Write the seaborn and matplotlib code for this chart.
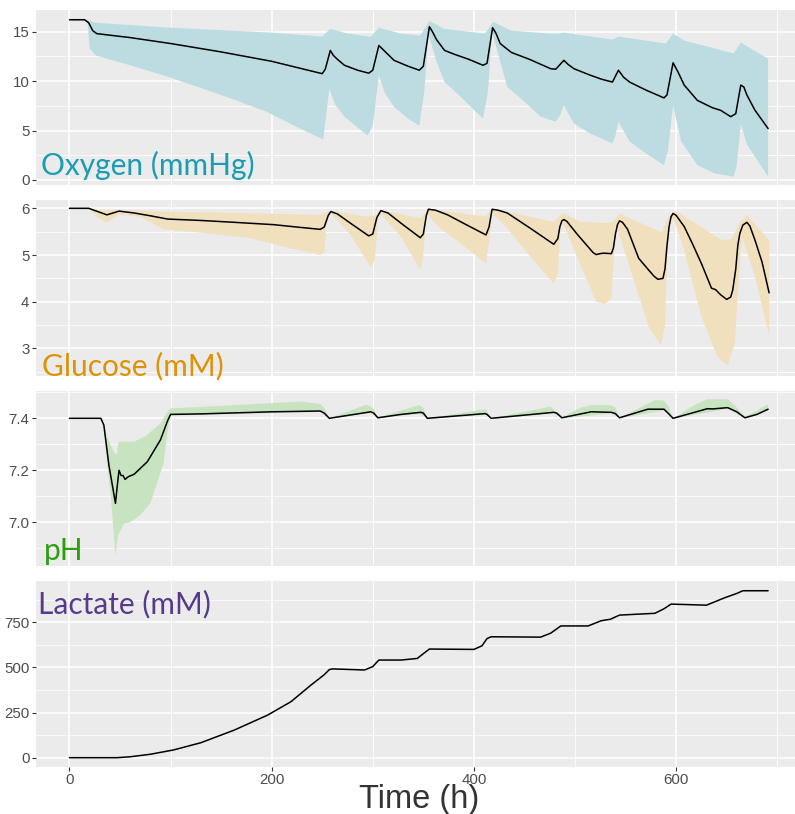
import numpy as np
import pandas as pd
import matplotlib
matplotlib.use("Agg")
import matplotlib.pyplot as plt
import seaborn as sns

# ---- ossigeno (mmHg): media e banda
oxy_t = [0, 15, 19, 23, 27, 60, 100, 150, 200, 250, 253, 258, 261, 265, 272, 285, 296, 300, 306, 310,
         314, 321, 335, 346, 350, 356, 359, 363, 371, 381, 395, 409, 413, 418.5, 422, 426, 437, 455,
         476, 481, 489, 493, 499, 515, 526, 537, 543, 548, 554, 570, 588, 591, 597, 602, 608, 621, 636,
         644, 654, 659, 664, 667, 670, 678, 691]
oxy_mean = [16.2, 16.2, 15.9, 15.1, 14.8, 14.4, 13.8, 12.95, 12.0, 10.75, 11.2, 13.1, 12.6, 12.2, 11.6,
            11.1, 10.8, 11.1, 13.6, 13.2, 12.8, 12.1, 11.5, 11.1, 11.5, 15.5, 15.0, 14.2, 13.1, 12.7,
            12.2, 11.6, 11.8, 15.4, 14.8, 13.8, 12.9, 12.2, 11.25, 11.2, 12.1, 11.7, 11.25, 10.6,
            10.2, 9.9, 11.1, 10.4, 9.9, 9.1, 8.3, 8.6, 11.85, 10.9, 9.6, 8.05, 7.3, 7.05, 6.4, 6.7,
            9.6, 9.4, 8.6, 7.05, 5.2]
oxy_hi_t = [0, 15, 18, 25, 100, 200, 250, 254, 258, 275, 298, 306, 328, 347, 356, 370, 411, 419, 437,
            476, 483, 489, 537, 543, 590, 597, 608, 657, 664, 691]
oxy_hi = [16.3, 16.3, 16.2, 15.9, 15.4, 14.9, 14.5, 14.9, 15.3, 14.8, 14.5, 15.4, 14.8, 14.6, 16.1,
          15.3, 14.8, 16.0, 15.1, 14.8, 14.8, 14.9, 14.2, 14.5, 13.8, 14.8, 14.1, 12.8, 13.9, 12.25]
oxy_lo_t = [0, 15, 18, 20, 26, 60, 97, 150, 195, 228, 251, 257, 263, 272, 285, 295, 300, 306, 312, 321,
            335, 346, 351, 355, 363, 371, 384, 409, 414, 418, 426, 433, 447, 466, 481, 485, 489, 499,
            515, 537, 540, 543, 554, 570, 588, 592, 597, 605, 621, 638, 657, 660, 664, 670, 678, 691]
oxy_lo = [16.2, 16.2, 15.8, 13.3, 12.6, 11.6, 10.45, 8.6, 6.9, 5.2, 4.1, 9.2, 7.6, 6.4, 5.3, 4.5, 5.5,
          10.6, 8.8, 7.4, 6.2, 5.5, 9.0, 14.8, 12.0, 9.9, 8.7, 6.2, 9.0, 15.0, 12.0, 9.4, 8.2, 6.4, 5.9,
          6.5, 7.55, 5.7, 4.7, 3.7, 4.5, 5.9, 3.9, 2.7, 1.5, 3.0, 7.55, 3.9, 1.5, 0.67, 0.33, 1.5,
          5.7, 3.6, 2.35, 0.33]

# ---- glucosio (mM)
glu_t = [0, 19, 28, 37, 43, 49, 64, 80, 97, 130, 163, 202, 229, 248, 252, 256, 258.5, 265, 278, 296,
         300, 304, 308, 315, 328, 347, 350, 353, 355, 362, 374, 395, 412, 415, 418, 424, 433, 456, 479,
         483, 485, 487, 489, 492, 502, 512, 518, 521, 525, 528, 536, 538, 540, 542, 544, 547, 552, 563,
         572, 578, 582, 587, 589, 591, 593, 595, 597, 600, 608, 616, 625, 632, 635, 639, 644, 650, 654,
         656, 659, 661, 663, 666, 670, 673, 678, 685, 692]
glu_mean = [6.0, 6.0, 5.93, 5.86, 5.9, 5.94, 5.9, 5.84, 5.77, 5.74, 5.70, 5.65, 5.59, 5.55, 5.6, 5.85,
            5.93, 5.88, 5.68, 5.41, 5.45, 5.8, 5.95, 5.9, 5.68, 5.37, 5.45, 5.85, 5.98, 5.96, 5.86,
            5.62, 5.43, 5.6, 5.98, 5.96, 5.9, 5.57, 5.23, 5.35, 5.6, 5.73, 5.76, 5.72, 5.45, 5.2, 5.05,
            5.01, 5.03, 5.04, 5.03, 5.15, 5.45, 5.65, 5.73, 5.7, 5.55, 4.93, 4.7, 4.55, 4.48, 4.5, 4.7,
            5.2, 5.6, 5.82, 5.89, 5.85, 5.61, 5.25, 4.82, 4.45, 4.29, 4.26, 4.15, 4.05, 4.1, 4.25, 4.7,
            5.2, 5.46, 5.64, 5.70, 5.62, 5.32, 4.85, 4.19]
glu_hi_t = [0, 19, 30, 50, 97, 248, 254, 258, 294, 303, 308, 347, 352, 355, 412, 418, 479, 488, 505,
            536, 541, 544, 586, 592, 597, 603, 645, 655, 663, 670, 692]
glu_hi = [6.0, 6.0, 5.96, 5.96, 5.93, 5.86, 5.9, 5.95, 5.82, 5.85, 5.96, 5.79, 5.9, 5.99, 5.82, 5.99,
          5.71, 5.9, 5.71, 5.68, 5.8, 5.89, 5.48, 5.8, 5.93, 5.9, 5.32, 5.34, 5.7, 5.86, 5.32]
glu_lo_t = [0, 19, 28, 37, 44, 49, 70, 93, 130, 179, 212, 248, 252, 255, 258, 265, 278, 298, 302, 306,
            313, 328, 347, 350, 353, 365, 384, 412, 415, 418, 432, 456, 479, 483, 486, 490, 502, 521,
            530, 536, 538, 540, 556, 573, 585, 589, 592, 597, 608, 625, 641, 651, 658, 662, 665, 678,
            692]
glu_lo = [6.0, 6.0, 5.8, 5.69, 5.8, 5.86, 5.82, 5.55, 5.48, 5.36, 5.18, 5.0, 5.05, 5.85, 5.9, 5.75,
          5.43, 4.74, 4.9, 5.9, 5.75, 5.39, 4.68, 5.0, 5.9, 5.6, 5.3, 4.82, 5.3, 5.9, 5.6, 4.96, 4.39,
          4.6, 5.7, 5.6, 4.96, 4.0, 3.96, 4.07, 4.8, 5.7, 4.61, 3.46, 3.07, 3.5, 5.6, 5.8, 5.11, 3.68,
          2.82, 2.64, 3.1, 4.5, 5.4, 4.54, 3.29]

# ---- pH
ph_t = [0, 31, 34, 39, 45.5, 47, 49, 51, 53, 55, 58, 64, 77, 90, 97, 100, 130, 200, 248, 252, 257,
        298, 301, 305, 328, 347.5, 350, 354, 411, 413, 417, 479, 482, 487, 516, 536, 540, 544, 572, 588,
        592, 597, 631, 636, 651, 660, 668, 680, 691]
ph_mean = [7.40, 7.40, 7.374, 7.22, 7.073, 7.13, 7.20, 7.18, 7.18, 7.165, 7.175, 7.185, 7.233, 7.317,
           7.39, 7.415, 7.417, 7.425, 7.428, 7.42, 7.40, 7.425, 7.42, 7.402, 7.415, 7.423, 7.42, 7.40,
           7.418, 7.415, 7.40, 7.423, 7.42, 7.402, 7.425, 7.423, 7.418, 7.402, 7.435, 7.435, 7.42,
           7.40, 7.437, 7.436, 7.441, 7.425, 7.402, 7.415, 7.435]
ph_hi_t = [0, 31, 33, 37, 44, 47, 48.5, 64, 75, 90, 97, 100, 229, 248, 252, 257, 294, 300, 305, 328,
           346, 350, 354, 412, 417, 476, 487, 505, 516, 536, 540, 544, 579, 588, 592, 597, 620, 631,
           651, 658, 668, 680, 691]
ph_hi = [7.40, 7.40, 7.40, 7.33, 7.27, 7.26, 7.31, 7.31, 7.33, 7.38, 7.425, 7.438, 7.464, 7.455, 7.44,
         7.40, 7.453, 7.44, 7.402, 7.43, 7.451, 7.44, 7.40, 7.435, 7.40, 7.445, 7.402, 7.44, 7.451,
         7.45, 7.44, 7.402, 7.470, 7.468, 7.45, 7.40, 7.455, 7.473, 7.473, 7.45, 7.405, 7.43, 7.455]
ph_lo_t = [0, 31, 34, 38, 41, 45.5, 48, 54, 60, 70, 80, 93, 97, 100, 248, 257, 298, 305, 346, 354,
           412, 417, 479, 487, 536, 544, 588, 597, 651, 668, 691]
ph_lo = [7.40, 7.40, 7.36, 7.20, 7.10, 6.874, 6.95, 6.996, 7.0, 7.028, 7.073, 7.227, 7.35, 7.41, 7.425,
         7.398, 7.42, 7.40, 7.418, 7.398, 7.414, 7.398, 7.418, 7.40, 7.418, 7.40, 7.43, 7.398, 7.437,
         7.40, 7.43]

# ---- lattato (mM)
lac_t = [0, 47, 60, 80, 103, 130, 163, 196, 219, 239, 252, 257, 260, 292, 300, 306, 328, 344, 352, 356,
         400, 408, 413, 417, 466, 476, 486, 513, 526, 535, 544, 579, 588, 595, 630, 648, 660, 666, 691]
lac_mean = [0, 0, 5, 19, 43, 83, 153, 236, 310, 403, 460, 488, 492, 486, 505, 541, 541, 550, 585, 602,
            600, 620, 660, 670, 668, 690, 730, 730, 759, 767, 790, 800, 825, 851, 845, 886, 910, 925,
            925]

W, H = 795, 814
sns.set_theme(style="darkgrid", rc={
    "axes.facecolor": "#EBEBEB",
    "grid.color": "white",
    "axes.edgecolor": "#EBEBEB",
    "xtick.color": "#333333",
    "ytick.color": "#333333",
})
plt.rcParams["font.family"] = ["Liberation Sans", "DejaVu Sans"]

fig = plt.figure(figsize=(W / 100, H / 100), dpi=100)

# posizioni dei pannelli in pixel (top, bottom)
pannelli = [(10, 185), (200, 376), (391, 566), (581, 766.7)]
left_px, right_px = 36, 795
axes = []
for top, bot in pannelli:
    ax = fig.add_axes([left_px / W, 1 - bot / H, (right_px - left_px) / W, (bot - top) / H])
    axes.append(ax)

serie = [
    dict(t=oxy_t, m=oxy_mean, ht=oxy_hi_t, h=oxy_hi, lt=oxy_lo_t, l=oxy_lo, fill="#BCDCE1",
         ylim=(-0.51, 17.19), major=[0, 5, 10, 15], minor=[2.5, 7.5, 12.5],
         lab="Oxygen (mmHg)", col="#1A9DB2", pos=(0.006, 0.057)),
    dict(t=glu_t, m=glu_mean, ht=glu_hi_t, h=glu_hi, lt=glu_lo_t, l=glu_lo, fill="#F1E0BD",
         ylim=(2.41, 6.178), major=[3, 4, 5, 6], minor=[2.5, 3.5, 4.5, 5.5],
         lab="Glucose (mM)", col="#DE9304", pos=(0.008, 0.006)),
    dict(t=ph_t, m=ph_mean, ht=ph_hi_t, h=ph_hi, lt=ph_lo_t, l=ph_lo, fill="#C7E3BF",
         ylim=(6.832, 7.505), major=[7.0, 7.2, 7.4], minor=[6.9, 7.1, 7.3, 7.5],
         lab="pH", col="#2E9E10", pos=(0.011, 0.034)),
    dict(t=lac_t, m=lac_mean, ht=None, h=None, lt=None, l=None, fill=None,
         ylim=(-49.9, 979), major=[0, 250, 500, 750], minor=[125, 375, 625, 875],
         lab="Lactate (mM)", col="#573A8C", pos=(0.003, 0.826)),
]

for i, (ax, s) in enumerate(zip(axes, serie)):
    if s["fill"] is not None:
        bx = np.r_[s["ht"], s["lt"][::-1]]
        by = np.r_[s["h"], s["l"][::-1]]
        ax.fill(bx, by, color=s["fill"], lw=0, zorder=1)
    df = pd.DataFrame({"t": s["t"], "v": s["m"]})
    sns.lineplot(data=df, x="t", y="v", ax=ax, color="black", linewidth=1.1, zorder=3)
    ax.set_xlim(-33.1, 717.6)
    ax.set_ylim(*s["ylim"])
    ax.set_xticks([0, 200, 400, 600])
    ax.set_xticks([100, 300, 500, 700], minor=True)
    ax.set_yticks(s["major"])
    ax.set_yticks(s["minor"], minor=True)
    ax.grid(which="major", color="white", linewidth=1.1)
    ax.grid(which="minor", color="white", linewidth=0.55)
    ax.set_axisbelow(True)
    ax.set_xlabel("")
    ax.set_ylabel("")
    for sp in ax.spines.values():
        sp.set_visible(False)
    ax.tick_params(which="minor", length=0)
    ax.tick_params(axis="y", which="major", length=2.75, width=0.8, pad=2,
                   labelsize=10.8, labelcolor="#4D4D4D", left=True)
    if i < 3:
        ax.tick_params(axis="x", which="major", length=0, labelbottom=False)
    else:
        ax.tick_params(axis="x", which="major", length=2.75, width=0.8, pad=2,
                       labelsize=10.8, labelcolor="#4D4D4D", bottom=True)
    ax.text(s["pos"][0], s["pos"][1], s["lab"], transform=ax.transAxes, fontsize=21.5,
            color=s["col"], family=["Lato", "DejaVu Sans"], va="baseline", ha="left", zorder=5)

fig.text((left_px + right_px) / 2 / W + 0.005, 1 - 808.3 / H, "Time (h)", ha="center", va="baseline",
         fontsize=23.5, color="#333333")

fig.savefig("out.png", dpi=100)
